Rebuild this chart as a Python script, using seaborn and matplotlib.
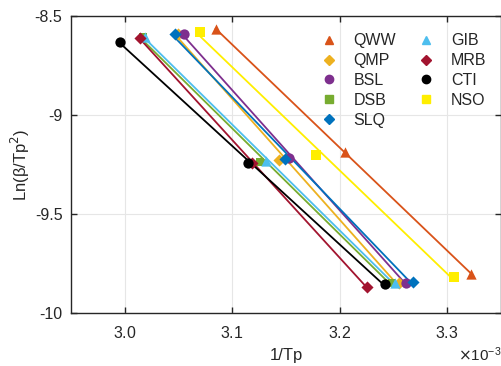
import numpy as np
import pandas as pd
import seaborn as sns
import matplotlib.pyplot as plt
from matplotlib.lines import Line2D

# sample names and values (x = 1/Tp, y = Ln(beta/Tp^2))
names = ['QWW', 'QMP', 'BSL', 'DSB', 'SLQ', 'GIB', 'MRB', 'CTI', 'NSO']

qww_x = [3.0846e-3, 3.2054e-3, 3.3222e-3]
qww_y = [-8.567, -9.185, -9.805]
qmp_x = [3.0500e-3, 3.1440e-3, 3.2556e-3]
qmp_y = [-8.590, -9.227, -9.850]
bsl_x = [3.0550e-3, 3.1533e-3, 3.2618e-3]
bsl_y = [-8.590, -9.217, -9.847]
dsb_x = [3.0170e-3, 3.1255e-3, 3.2490e-3]
dsb_y = [-8.605, -9.236, -9.850]
slq_x = [3.0465e-3, 3.1496e-3, 3.2680e-3]
slq_y = [-8.590, -9.220, -9.843]
gib_x = [3.0186e-3, 3.1317e-3, 3.2510e-3]
gib_y = [-8.605, -9.230, -9.850]
mrb_x = [3.0146e-3, 3.1187e-3, 3.2256e-3]
mrb_y = [-8.613, -9.244, -9.870]
cti_x = [2.9960e-3, 3.1146e-3, 3.2419e-3]
cti_y = [-8.630, -9.244, -9.855]
nso_x = [3.0697e-3, 3.1780e-3, 3.3067e-3]
nso_y = [-8.579, -9.202, -9.820]

xs = [qww_x, qmp_x, bsl_x, dsb_x, slq_x, gib_x, mrb_x, cti_x, nso_x]
ys = [qww_y, qmp_y, bsl_y, dsb_y, slq_y, gib_y, mrb_y, cti_y, nso_y]

colors = ['#D95319', '#EDB120', '#7E2F8E', '#77AC30', '#0072BD',
          '#4DBEEE', '#A2142F', '#000000', '#FFEE00']
markers = ['^', 'D', 'o', 's', 'D', '^', 'D', 'o', 's']
msizes = [55, 38, 55, 40, 38, 55, 38, 55, 45]

sns.set_theme(style='ticks')
plt.rcParams['font.family'] = ['Liberation Sans', 'DejaVu Sans']
plt.rcParams['axes.unicode_minus'] = False

fig = plt.figure(figsize=(5.02, 3.66), dpi=100)
ax = fig.add_axes([0.141, 0.145, 0.857, 0.811])

for name, x, y, c, m, s in zip(names, xs, ys, colors, markers, msizes):
    df = pd.DataFrame({'x': x, 'y': y})
    sns.regplot(data=df, x='x', y='y', ax=ax, ci=None, truncate=True,
                color=c, marker=m,
                scatter_kws={'s': s, 'alpha': 1, 'linewidths': 0, 'zorder': 3},
                line_kws={'lw': 1.3, 'zorder': 2})

ax.set_xlim(2.95e-3, 3.35e-3)
ax.set_ylim(-10, -8.5)
ax.set_xticks([3.0e-3, 3.1e-3, 3.2e-3, 3.3e-3])
ax.set_yticks([-10, -9.5, -9, -8.5])
ax.set_yticklabels(['-10', '-9.5', '-9', '-8.5'])
ax.ticklabel_format(axis='x', style='sci', scilimits=(-3, -3), useMathText=True)
ax.xaxis.get_offset_text().set_fontsize(11)
ax.grid(True, color='#e6e6e6', lw=0.8)
ax.set_axisbelow(True)
ax.tick_params(direction='in', top=True, right=True, labelsize=11.5, length=4,
               width=1, colors='#262626')
ax.tick_params(axis='x', pad=9)
ax.tick_params(axis='y', pad=6)
for sp in ax.spines.values():
    sp.set_color('#262626')
    sp.set_linewidth(1)

ax.set_xlabel('1/Tp', fontsize=12, color='#262626', labelpad=5)
ax.set_ylabel(r'Ln(β/Tp$^2$)', fontsize=12, color='#262626', labelpad=2)

handles = [Line2D([], [], ls='none', marker=m, color=c,
                  markersize=6 if m != 'D' else 5)
           for m, c in zip(markers, colors)]
ax.legend(handles, names, ncol=2, loc='upper right', bbox_to_anchor=(1.0, 0.99),
          frameon=False, fontsize=11.5, handletextpad=0.95, columnspacing=1.3,
          labelspacing=0.3, handlelength=1.2)

fig.savefig('out.png', dpi=100)
